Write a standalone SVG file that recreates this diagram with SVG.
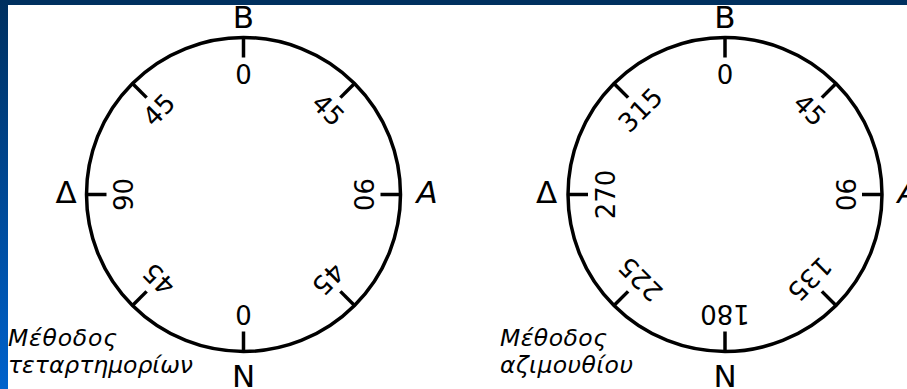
<svg xmlns="http://www.w3.org/2000/svg" width="907" height="389" viewBox="0 0 907 389">
<defs>
<linearGradient id="side" x1="0" y1="0" x2="0" y2="1">
<stop offset="0" stop-color="#00305f"/>
<stop offset="1" stop-color="#0062cc"/>
</linearGradient>
<style>
.ring{fill:none;stroke:#000;stroke-width:3.5}
.tick{stroke:#000;stroke-width:3.5}
.num{font-family:"DejaVu Sans",sans-serif;font-size:26px;fill:#000;text-anchor:middle}
.dir{font-family:"DejaVu Sans",sans-serif;font-size:31px;fill:#000;text-anchor:middle}
.ital{font-family:"DejaVu Sans",sans-serif;font-style:italic}
.cap{font-family:"DejaVu Sans",sans-serif;font-style:italic;font-size:23.5px;fill:#000}
</style>
<g id="tk"><line class="tick" x1="0" y1="-157" x2="0" y2="-137"/></g>
</defs>
<rect width="907" height="389" fill="#fff"/>
<rect x="0" y="0" width="907" height="5" fill="#00305f"/>
<rect x="0" y="0" width="8" height="389" fill="url(#side)"/>

<g id="quadrant" transform="translate(243.5,194.5)">
<circle class="ring" r="157"/>
<use href="#tk" transform="rotate(0)"/>
<use href="#tk" transform="rotate(45)"/>
<use href="#tk" transform="rotate(90)"/>
<use href="#tk" transform="rotate(135)"/>
<use href="#tk" transform="rotate(180)"/>
<use href="#tk" transform="rotate(225)"/>
<use href="#tk" transform="rotate(270)"/>
<use href="#tk" transform="rotate(315)"/>
<text class="num" transform="rotate(0)" y="-110.5">0</text>
<text class="num" transform="rotate(45)" y="-110.5">45</text>
<text class="num" transform="rotate(90)" y="-110.5">90</text>
<text class="num" transform="rotate(135)" y="-110.5">45</text>
<text class="num" transform="rotate(180)" y="-110.5">0</text>
<text class="num" transform="rotate(225)" y="-110.5">45</text>
<text class="num" transform="rotate(270)" y="-110.5">90</text>
<text class="num" transform="rotate(315)" y="-110.5">45</text>
</g>
<g id="quadrant-labels">
<text class="dir" x="243.5" y="28">B</text>
<text class="dir" x="243.5" y="387">N</text>
<text class="dir" x="66" y="203">Δ</text>
<text class="dir ital" x="427" y="203">A</text>
<text class="cap" x="8" y="346" textLength="109">Μέθοδος</text>
<text class="cap" x="8" y="373" textLength="185">τεταρτημορίων</text>
</g>

<g id="azimuth" transform="translate(725,194.5)">
<circle class="ring" r="157"/>
<use href="#tk" transform="rotate(0)"/>
<use href="#tk" transform="rotate(45)"/>
<use href="#tk" transform="rotate(90)"/>
<use href="#tk" transform="rotate(135)"/>
<use href="#tk" transform="rotate(180)"/>
<use href="#tk" transform="rotate(225)"/>
<use href="#tk" transform="rotate(270)"/>
<use href="#tk" transform="rotate(315)"/>
<text class="num" transform="rotate(0)" y="-110.5">0</text>
<text class="num" transform="rotate(45)" y="-110.5">45</text>
<text class="num" transform="rotate(90)" y="-110.5">90</text>
<text class="num" transform="rotate(135)" y="-110.5">135</text>
<text class="num" transform="rotate(180)" y="-110.5">180</text>
<text class="num" transform="rotate(225)" y="-110.5">225</text>
<text class="num" transform="rotate(270)" y="-110.5">270</text>
<text class="num" transform="rotate(315)" y="-110.5">315</text>
</g>
<g id="azimuth-labels">
<text class="dir" x="725" y="28">B</text>
<text class="dir" x="725" y="387">N</text>
<text class="dir" x="546.5" y="203">Δ</text>
<text class="dir ital" x="908" y="203">A</text>
<text class="cap" x="500" y="346" textLength="107">Μέθοδος</text>
<text class="cap" x="500" y="373" textLength="133">αζιμουθίου</text>
</g>
</svg>
